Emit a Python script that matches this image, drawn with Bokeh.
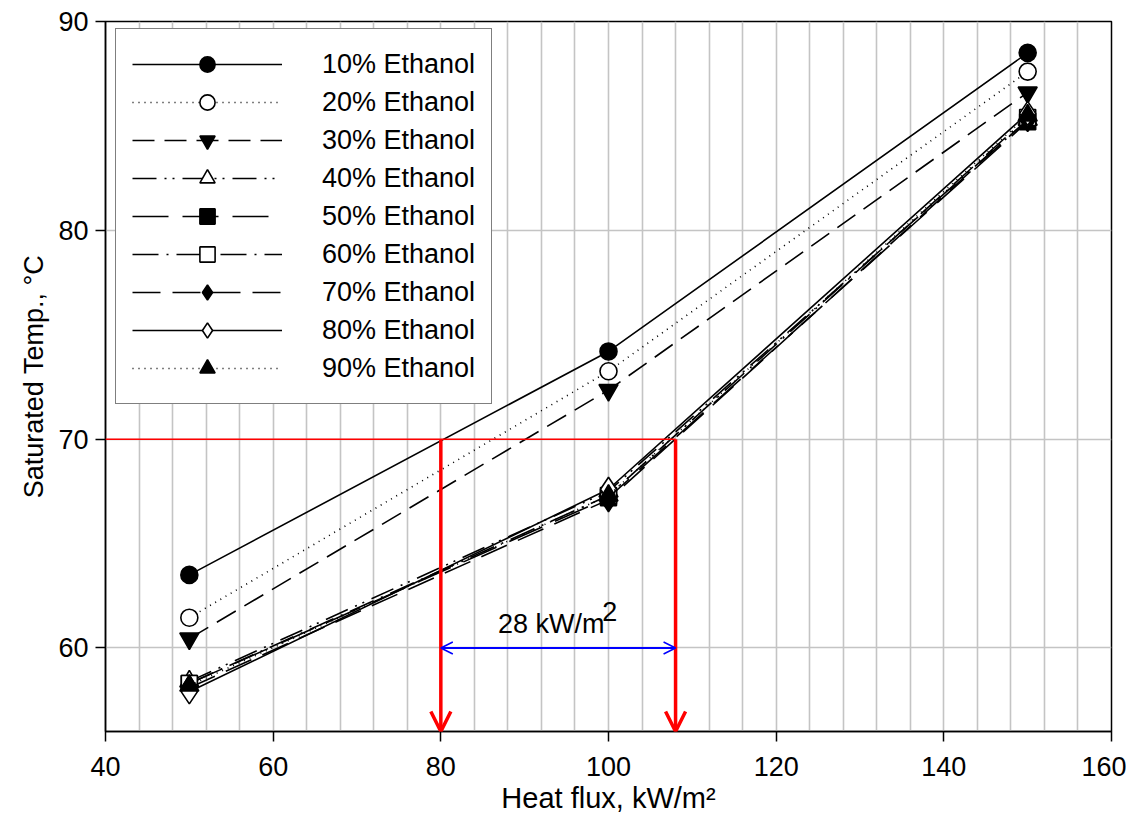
from bokeh.plotting import figure
from bokeh.models import (Range1d, Legend, LegendItem, Arrow, OpenHead, Label,
                          SingleIntervalTicker, FixedTicker)
from bokeh.embed import file_html
from bokeh.resources import INLINE

# ---- data ----
heat_flux = [50, 100, 150]
t10 = [63.5, 74.2, 88.5]
t20 = [61.45, 73.25, 87.6]
t30 = [60.45, 72.35, 86.6]
t40 = [58.4, 67.5, 85.3]
t50 = [58.3, 67.2, 85.2]
t60 = [58.3, 67.3, 85.4]
t70 = [58.1, 67.1, 85.3]
t80 = [57.9, 67.6, 85.6]
t90 = [58.2, 67.3, 85.5]
series_labels = ["10% Ethanol", "20% Ethanol", "30% Ethanol", "40% Ethanol", "50% Ethanol",
                 "60% Ethanol", "70% Ethanol", "80% Ethanol", "90% Ethanol"]
x_ticks = [40, 60, 80, 100, 120, 140, 160]
y_ticks = [60, 70, 80, 90]

# annotation values
ref_temp = 70
flux_a = 80
flux_b = 108
span_y = 60
span_text = "28 kW/m"

FONT = "Liberation Sans"

p = figure(width=1126, height=817, output_backend="svg", toolbar_location=None,
           x_range=Range1d(40, 160), y_range=Range1d(56, 90),
           min_border_left=105, min_border_right=15, min_border_top=21, min_border_bottom=86)
p.background_fill_color = "white"
p.border_fill_color = "white"
p.outline_line_color = "black"
p.outline_line_width = 1.5

# grids
p.xgrid.ticker = SingleIntervalTicker(interval=4)
p.xgrid.grid_line_color = "#c4c4c4"
p.xgrid.grid_line_width = 1.6
p.ygrid.ticker = FixedTicker(ticks=[60, 70, 80])
p.ygrid.grid_line_color = "#c4c4c4"
p.ygrid.grid_line_width = 1.6

# axes
for ax in (p.xaxis[0], p.yaxis[0]):
    ax.axis_line_width = 1.5
    ax.axis_line_color = "black"
    ax.major_tick_line_width = 1.5
    ax.major_tick_in = 0
    ax.major_tick_out = 10
    ax.minor_tick_line_color = None
    ax.major_label_text_font = FONT
    ax.major_label_text_font_size = "27px"
    ax.major_label_text_color = "black"
    ax.axis_label_text_font = FONT
    ax.axis_label_text_font_style = "normal"
    ax.axis_label_text_color = "black"
p.xaxis.ticker = FixedTicker(ticks=x_ticks)
p.yaxis.ticker = FixedTicker(ticks=y_ticks)
p.xaxis.major_label_standoff = 15
p.yaxis.major_label_standoff = 7
p.xaxis.axis_label = "Heat flux, kW/m\u00b2"
p.yaxis.axis_label = "Saturated Temp., \u00b0C"
p.xaxis.axis_label_text_font_size = "29px"
p.yaxis.axis_label_text_font_size = "27px"
p.xaxis.axis_label_standoff = 3
p.yaxis.axis_label_standoff = 6

styles = [
    dict(y=t10, dash="solid", marker="circle", fill="black", size=17),
    dict(y=t20, dash="1 5", marker="circle", fill="white", size=17),
    dict(y=t30, dash="22 10", marker="inverted_triangle", fill="black", size=19),
    dict(y=t40, dash="24 8 2 6 2 8", marker="triangle", fill="white", size=19),
    dict(y=t50, dash="36 14", marker="square", fill="black", size=16),
    dict(y=t60, dash="26 8 2 8", marker="square", fill="white", size=16),
    dict(y=t70, dash="28 12", marker="diamond", fill="black", size=24),
    dict(y=t80, dash="solid", marker="diamond", fill="white", size=24),
    dict(y=t90, dash="1 5", marker="triangle", fill="black", size=19),
]

items = []
for lab, st in zip(series_labels, styles):
    r_line = p.line(heat_flux, st["y"], line_color="black", line_width=1.6, line_dash=st["dash"])
    r_mark = p.scatter(heat_flux, st["y"], marker=st["marker"], size=st["size"],
                       fill_color=st["fill"], line_color="black", line_width=1.6)
    items.append(LegendItem(label=lab, renderers=[r_line, r_mark]))

legend = Legend(items=items, location=(10, 327), glyph_width=150, glyph_height=38,
                label_standoff=40, spacing=0, padding=16,
                label_text_font=FONT, label_text_font_size="27px",
                label_text_color="black",
                border_line_color="black", border_line_width=1.5,
                background_fill_color="white", background_fill_alpha=1.0)
p.add_layout(legend, "center")

# red reference line & arrows
p.add_layout(Arrow(end=None, x_start=40, y_start=ref_temp, x_end=flux_b, y_end=ref_temp,
                   line_color="red", line_width=1.5))
for fx in (flux_a, flux_b):
    p.add_layout(Arrow(end=OpenHead(size=20, line_color="red", line_width=3.5),
                       x_start=fx, y_start=ref_temp, x_end=fx, y_end=56,
                       line_color="red", line_width=3.5))

# blue double arrow
p.add_layout(Arrow(start=OpenHead(size=12, line_color="#0000ff", line_width=1.5),
                   end=OpenHead(size=12, line_color="#0000ff", line_width=1.5),
                   x_start=flux_a, y_start=span_y, x_end=flux_b, y_end=span_y,
                   line_color="#0000ff", line_width=2))

mid = (flux_a + flux_b) / 2
p.add_layout(Label(x=mid, y=span_y, text=span_text, text_align="center", y_offset=9,
                   x_offset=-7, text_font=FONT, text_font_size="27px", text_color="black"))
p.add_layout(Label(x=mid, y=span_y, text="2", text_align="left", y_offset=27,
                   x_offset=44, text_font=FONT, text_font_size="27px", text_color="black"))

open("out.html", "w").write(file_html(p, INLINE))
